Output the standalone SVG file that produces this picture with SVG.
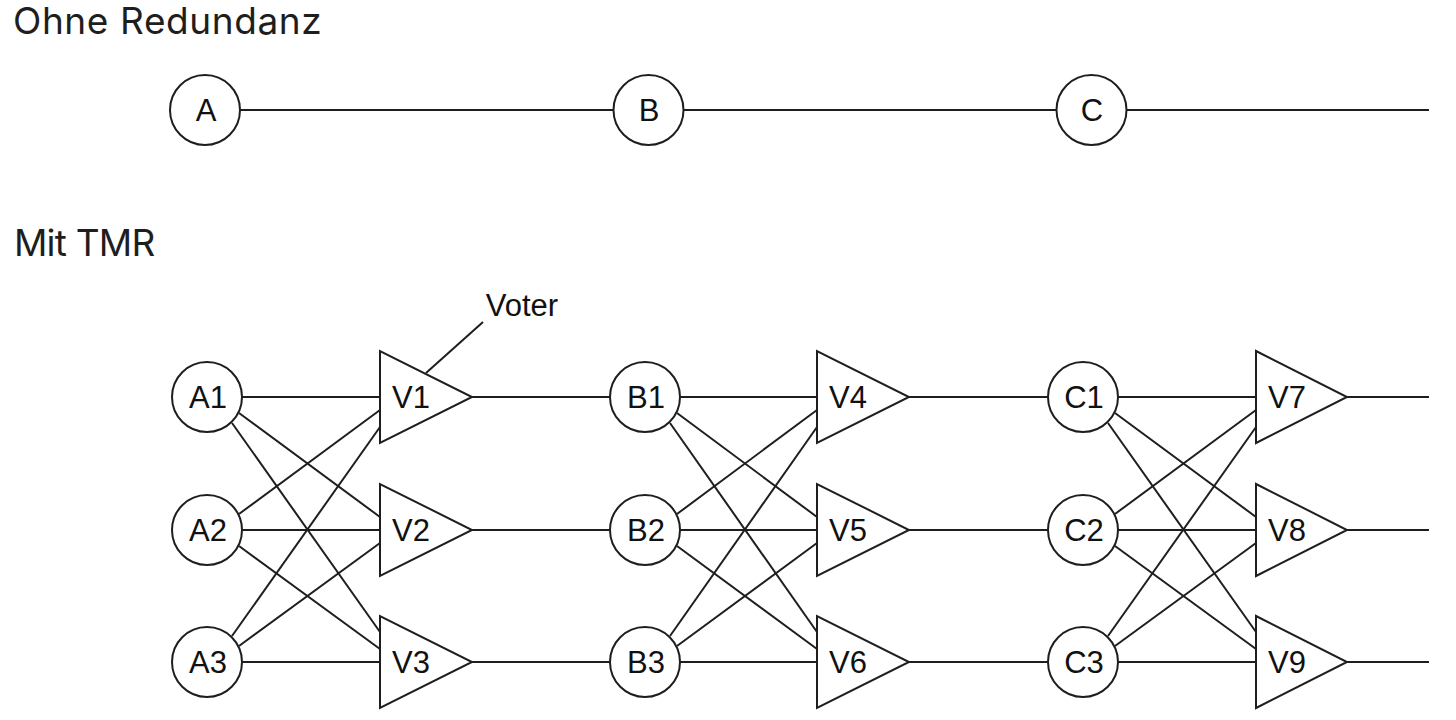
<svg xmlns="http://www.w3.org/2000/svg" width="1456" height="720" viewBox="0 0 1456 720">
<style>
.ln{stroke:#1e1e1e;stroke-width:2;fill:none}
.nd{stroke:#1e1e1e;stroke-width:2;fill:#fff}
.lb{font-family:"Liberation Sans",Arial,sans-serif;font-size:31px;fill:#111;text-anchor:middle}
.hd{font-family:Inter,"Noto Sans",sans-serif;font-size:37px;fill:#1e1e1e}
</style>
<rect width="1456" height="720" fill="#fff"/>
<text class="hd" x="13" y="34" letter-spacing="0.6">Ohne Redundanz</text>
<text class="hd" x="14" y="256" letter-spacing="-0.8">Mit TMR</text>
<g id="connectors">
<line class="ln" x1="240" y1="110" x2="613" y2="110"/>
<line class="ln" x1="684" y1="110" x2="1056" y2="110"/>
<line class="ln" x1="1127" y1="110" x2="1429" y2="110"/>
<line class="ln" x1="242" y1="397" x2="380" y2="397"/>
<line class="ln" x1="242" y1="530" x2="380" y2="530"/>
<line class="ln" x1="242" y1="662" x2="380" y2="662"/>
<line class="ln" x1="239" y1="413" x2="380" y2="517"/>
<line class="ln" x1="232" y1="423" x2="380" y2="632"/>
<line class="ln" x1="239" y1="514" x2="380" y2="410"/>
<line class="ln" x1="239" y1="546" x2="380" y2="649"/>
<line class="ln" x1="232" y1="636" x2="380" y2="427"/>
<line class="ln" x1="239" y1="646" x2="380" y2="543"/>
<line class="ln" x1="472" y1="397" x2="610" y2="397"/>
<line class="ln" x1="472" y1="530" x2="610" y2="530"/>
<line class="ln" x1="472" y1="662" x2="610" y2="662"/>
<line class="ln" x1="680" y1="397" x2="817" y2="397"/>
<line class="ln" x1="680" y1="530" x2="817" y2="530"/>
<line class="ln" x1="680" y1="662" x2="817" y2="662"/>
<line class="ln" x1="677" y1="413" x2="817" y2="517"/>
<line class="ln" x1="670" y1="423" x2="817" y2="632"/>
<line class="ln" x1="677" y1="514" x2="817" y2="410"/>
<line class="ln" x1="677" y1="546" x2="817" y2="649"/>
<line class="ln" x1="670" y1="636" x2="817" y2="427"/>
<line class="ln" x1="677" y1="646" x2="817" y2="543"/>
<line class="ln" x1="909" y1="397" x2="1048" y2="397"/>
<line class="ln" x1="909" y1="530" x2="1048" y2="530"/>
<line class="ln" x1="909" y1="662" x2="1048" y2="662"/>
<line class="ln" x1="1118" y1="397" x2="1256" y2="397"/>
<line class="ln" x1="1118" y1="530" x2="1256" y2="530"/>
<line class="ln" x1="1118" y1="662" x2="1256" y2="662"/>
<line class="ln" x1="1115" y1="413" x2="1256" y2="517"/>
<line class="ln" x1="1108" y1="423" x2="1256" y2="632"/>
<line class="ln" x1="1115" y1="514" x2="1256" y2="410"/>
<line class="ln" x1="1115" y1="546" x2="1256" y2="649"/>
<line class="ln" x1="1108" y1="636" x2="1256" y2="427"/>
<line class="ln" x1="1115" y1="646" x2="1256" y2="543"/>
<line class="ln" x1="1347" y1="397" x2="1429" y2="397"/>
<line class="ln" x1="1347" y1="530" x2="1429" y2="530"/>
<line class="ln" x1="1347" y1="662" x2="1429" y2="662"/>
<line class="ln" x1="426" y1="373" x2="483" y2="322"/>
</g>
<g id="A"><circle class="nd" cx="205" cy="110" r="35"/><text class="lb" x="206" y="121">A</text></g>
<g id="B"><circle class="nd" cx="648.5" cy="110" r="35"/><text class="lb" x="649" y="121">B</text></g>
<g id="C"><circle class="nd" cx="1091.5" cy="110" r="35"/><text class="lb" x="1092" y="121">C</text></g>
<g id="A1"><circle class="nd" cx="207" cy="397" r="35"/><text class="lb" x="208" y="408">A1</text></g>
<g id="A2"><circle class="nd" cx="207" cy="530" r="35"/><text class="lb" x="208" y="541">A2</text></g>
<g id="A3"><circle class="nd" cx="207" cy="662" r="35"/><text class="lb" x="208" y="673">A3</text></g>
<g id="B1"><circle class="nd" cx="645" cy="397" r="35"/><text class="lb" x="646" y="408">B1</text></g>
<g id="B2"><circle class="nd" cx="645" cy="530" r="35"/><text class="lb" x="646" y="541">B2</text></g>
<g id="B3"><circle class="nd" cx="645" cy="662" r="35"/><text class="lb" x="646" y="673">B3</text></g>
<g id="C1"><circle class="nd" cx="1083" cy="397" r="35"/><text class="lb" x="1084" y="408">C1</text></g>
<g id="C2"><circle class="nd" cx="1083" cy="530" r="35"/><text class="lb" x="1084" y="541">C2</text></g>
<g id="C3"><circle class="nd" cx="1083" cy="662" r="35"/><text class="lb" x="1084" y="673">C3</text></g>
<g id="V1"><polygon class="nd" points="380,351 380,443 472,397"/><text class="lb" x="411" y="408">V1</text></g>
<g id="V2"><polygon class="nd" points="380,484 380,576 472,530"/><text class="lb" x="411" y="541">V2</text></g>
<g id="V3"><polygon class="nd" points="380,616 380,708 472,662"/><text class="lb" x="411" y="673">V3</text></g>
<g id="V4"><polygon class="nd" points="817,351 817,443 909,397"/><text class="lb" x="848" y="408">V4</text></g>
<g id="V5"><polygon class="nd" points="817,484 817,576 909,530"/><text class="lb" x="848" y="541">V5</text></g>
<g id="V6"><polygon class="nd" points="817,616 817,708 909,662"/><text class="lb" x="848" y="673">V6</text></g>
<g id="V7"><polygon class="nd" points="1256,351 1256,443 1347,397"/><text class="lb" x="1287" y="408">V7</text></g>
<g id="V8"><polygon class="nd" points="1256,484 1256,576 1347,530"/><text class="lb" x="1287" y="541">V8</text></g>
<g id="V9"><polygon class="nd" points="1256,616 1256,708 1347,662"/><text class="lb" x="1287" y="673">V9</text></g>
<g id="voter-label"><text class="lb" x="522" y="316">Voter</text></g>
</svg>
